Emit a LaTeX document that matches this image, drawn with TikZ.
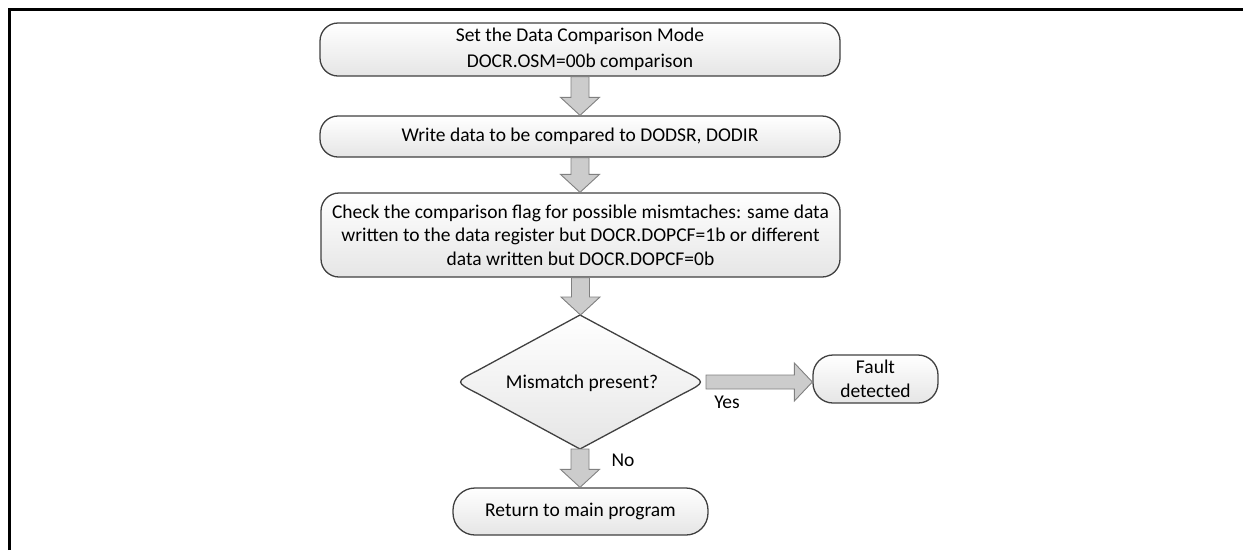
\documentclass[tikz,border=0pt]{standalone}
\usepackage{fontspec}
\setmainfont{Carlito}
\usetikzlibrary{calc}
\definecolor{boxedge}{HTML}{404040}
\definecolor{arrfill}{HTML}{CCCCCC}
\definecolor{arredge}{HTML}{808080}
\tikzset{
  flowbox/.style={draw=boxedge, line width=1.3pt, rounded corners=18pt, top color=white, bottom color=black!10, align=center, inner sep=0pt, font=\fontsize{19.5}{23.5}\selectfont},
  blockarr/.style={fill=arrfill, draw=arredge, line width=0.9pt},
  lbl/.style={font=\fontsize{19.5}{23.5}\selectfont, inner sep=0pt}
}
\newcommand\vblock[2]{\path let \p1=(#1), \p2=(#2) in [blockarr] (\x1-9pt,\y1) -- (\x1+9pt,\y1) -- (\x1+9pt,\y2+18pt) -- (\x1+19.5pt,\y2+18pt) -- (\x1,\y2) -- (\x1-19.5pt,\y2+18pt) -- (\x1-9pt,\y2+18pt) -- cycle;}
\newcommand\hblock[2]{\path let \p1=(#1), \p2=(#2) in [blockarr] (\x1,\y1+7pt) -- (\x2-18pt,\y1+7pt) -- (\x2-18pt,\y1+19pt) -- (\x2,\y1) -- (\x2-18pt,\y1-19pt) -- (\x2-18pt,\y1-7pt) -- (\x1,\y1-7pt) -- cycle;}
\begin{document}
\begin{tikzpicture}[x=1pt,y=-1pt]
\useasboundingbox (0,0) rectangle (1243,550);
% frame
\draw[line width=2.7pt] (9.3,550) -- (9.3,9.3) -- (1243,9.3);
% boxes
\node[flowbox, minimum width=520pt, minimum height=53pt, font=\fontsize{19.5}{26.5}\selectfont] (b1) at (580,49.5) {Set the Data Comparison Mode\\DOCR.OSM=00b comparison};
\node[flowbox, minimum width=520pt, minimum height=41pt] (b2) at (580,136.5) {Write data to be compared to DODSR, DODIR};
\node[flowbox, minimum width=519pt, minimum height=84pt] (b3) at (580.5,235) {Check the comparison flag for possible mismtaches: same data\\written to the data register but DOCR.DOPCF=1b or different\\data written but DOCR.DOPCF=0b};
% decision
\coordinate (dtop) at (580,315);
\coordinate (dbot) at (580,449);
\coordinate (dright) at (706,382);
\coordinate (dleft) at (455,382);
\path[draw=boxedge, line width=1.3pt, top color=white, bottom color=black!10]
  (dtop) -- (683.6,370.6) .. controls (dright) .. (683.6,393.4) -- (dbot)
  -- (477.4,393.4) .. controls (dleft) .. (477.4,370.6) -- cycle;
\node[lbl] (dec) at (582,383) {Mismatch present?};
\node[flowbox, rounded corners=20pt, minimum width=125pt, minimum height=48pt] (fault) at (875.5,379) {Fault\\detected};
\node[flowbox, rounded corners=22pt, minimum width=255pt, minimum height=47pt] (ret) at (580.5,511.5) {Return to main program};
% arrows
\vblock{b1.south}{b2.north}
\vblock{b2.south}{b3.north}
\vblock{b3.south}{dtop}
\vblock{dbot}{ret.north}
\hblock{dright}{fault.west}
% labels
\node[lbl] (yes) at (727,402) {Yes};
\node[lbl] (no) at (623,460) {No};
\end{tikzpicture}
\end{document}
